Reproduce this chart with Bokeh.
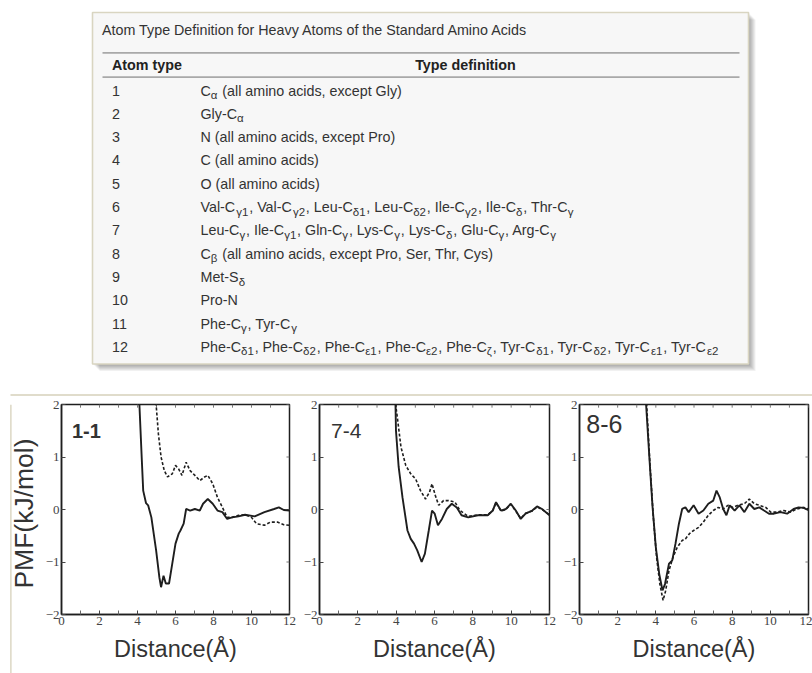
import re
import math

from bokeh.core.properties import value
from bokeh.embed import file_html
from bokeh.layouts import column, row
from bokeh.models import FixedTicker, Range1d
from bokeh.plotting import figure
from bokeh.resources import INLINE

# ---------------------------------------------------------------- table data
TABLE_TITLE = "Atom Type Definition for Heavy Atoms of the Standard Amino Acids"
HEADER_TYPE = "Atom type"
HEADER_DEF = "Type definition"
ATOM_TYPES = [str(i) for i in range(1, 14)]
# "_{...}" marks a subscript
DEFINITIONS = [
    "C_{α} (all amino acids, except Gly)",
    "Gly-C_{α}",
    "N (all amino acids, except Pro)",
    "C (all amino acids)",
    "O (all amino acids)",
    "Val-C_{γ1}, Val-C_{γ2}, Leu-C_{δ1}, Leu-C_{δ2}, Ile-C_{γ2}, Ile-C_{δ}, Thr-C_{γ}",
    "Leu-C_{γ}, Ile-C_{γ1}, Gln-C_{γ}, Lys-C_{γ}, Lys-C_{δ}, Glu-C_{γ}, Arg-C_{γ}",
    "C_{β} (all amino acids, except Pro, Ser, Thr, Cys)",
    "Met-S_{δ}",
    "Pro-N",
    "Phe-C_{γ}, Tyr-C_{γ}",
    "Phe-C_{δ1}, Phe-C_{δ2}, Phe-C_{ε1}, Phe-C_{ε2}, Phe-C_{ζ}, Tyr-C_{δ1}, Tyr-C_{δ2}, Tyr-C_{ε1}, Tyr-C_{ε2}",
    "Trp-C_{γ}",
]

# ---------------------------------------------------------------- PMF data
PANEL_LABELS = ["1-1", "7-4", "8-6"]
X_TICKS = [0, 2, 4, 6, 8, 10, 12]
X_MINOR = [1, 3, 5, 7, 9, 11]
Y_TICKS = [-2, -1, 0, 1, 2]

X11_SOLID = [4.0, 4.1, 4.22, 4.3, 4.45, 4.56, 4.73, 4.98, 5.15, 5.24, 5.37, 5.49, 5.66, 5.83, 6.0, 6.17, 6.26,
             6.43, 6.56, 6.77, 7.02, 7.28, 7.45, 7.70, 7.96, 8.21, 8.47, 8.72, 8.98, 9.32, 9.66, 10.17, 10.68,
             11.19, 11.44, 11.7, 12.0]
Y11_SOLID = [2.6, 2.0, 1.0, 0.36, 0.12, 0.08, -0.15, -0.78, -1.29, -1.48, -1.26, -1.41, -1.41, -1.03, -0.65,
             -0.46, -0.40, -0.27, 0.01, -0.02, 0.01, -0.02, 0.11, 0.20, 0.11, -0.02, -0.05, -0.18, -0.15, -0.13,
             -0.10, -0.13, -0.05, 0.01, 0.04, -0.01, -0.02]
X11_DASH = [4.9, 4.98, 5.1, 5.24, 5.41, 5.58, 5.83, 6.0, 6.17, 6.34, 6.56, 6.77, 7.02, 7.28, 7.53, 7.70, 7.96,
            8.21, 8.47, 8.72, 8.98, 9.32, 9.66, 10.0, 10.26, 10.68, 11.0, 11.36, 11.7, 12.0]
Y11_DASH = [2.8, 2.0, 1.44, 1.0, 0.74, 0.62, 0.68, 0.84, 0.77, 0.65, 0.90, 0.74, 0.65, 0.55, 0.62, 0.65, 0.49,
            0.23, 0.04, -0.15, -0.15, -0.11, -0.10, -0.15, -0.27, -0.30, -0.24, -0.24, -0.29, -0.30]

X74_SOLID = [3.95, 3.99, 4.13, 4.33, 4.59, 4.76, 4.93, 5.1, 5.33, 5.5, 5.70, 5.87, 6.01, 6.18, 6.39, 6.64, 6.90,
             7.16, 7.41, 7.76, 8.27, 8.78, 9.04, 9.21, 9.47, 9.73, 9.98, 10.24, 10.5, 10.75, 11.1, 11.35, 11.61,
             12.0]
Y74_SOLID = [2.3, 1.5, 0.81, 0.23, -0.40, -0.56, -0.65, -0.78, -1.0, -0.84, -0.40, -0.02, -0.08, -0.30, -0.18,
             0.01, 0.11, 0.04, -0.11, -0.15, -0.11, -0.11, -0.02, 0.14, -0.02, 0.01, 0.11, -0.02, -0.18, -0.08,
             -0.02, 0.06, 0.01, -0.11]
X74_DASH = [3.97, 3.99, 4.08, 4.25, 4.5, 4.76, 5.02, 5.27, 5.53, 5.74, 5.87, 6.04, 6.22, 6.47, 6.73, 7.07, 7.33,
            7.76, 8.27, 8.78, 9.04, 9.21, 9.47, 9.73, 9.98, 10.24, 10.5, 10.75, 11.1, 11.35, 11.61, 12.0]
Y74_DASH = [2.3, 1.95, 1.7, 1.19, 0.84, 0.68, 0.58, 0.36, 0.20, 0.33, 0.49, 0.27, 0.08, 0.17, 0.17, 0.14, -0.02,
            -0.13, -0.10, -0.10, -0.02, 0.13, -0.03, 0.0, 0.10, -0.03, -0.17, -0.07, -0.03, 0.05, 0.0, -0.10]

X86_SOLID = [3.45, 3.49, 3.66, 3.83, 4.0, 4.18, 4.35, 4.48, 4.69, 4.86, 5.03, 5.21, 5.38, 5.55, 5.72, 5.98, 6.24,
             6.49, 6.75, 7.01, 7.18, 7.35, 7.53, 7.70, 7.87, 8.13, 8.38, 8.64, 8.9, 9.16, 9.42, 9.67, 9.93, 10.19,
             10.53, 10.88, 11.22, 11.48, 11.74, 12.0]
Y86_SOLID = [2.5, 2.0, 1.0, 0.04, -0.72, -1.23, -1.54, -1.42, -1.03, -0.97, -0.65, -0.27, 0.01, 0.04, -0.05,
             0.08, -0.08, -0.02, 0.11, 0.17, 0.36, 0.23, 0.01, -0.11, 0.08, -0.02, 0.08, -0.05, 0.11, 0.01, 0.04,
             -0.02, -0.08, -0.08, -0.05, -0.08, 0.01, 0.04, 0.03, -0.01]
X86_DASH = [3.48, 3.52, 3.69, 3.87, 4.04, 4.21, 4.38, 4.52, 4.69, 4.9, 5.12, 5.38, 5.55, 5.76, 5.98, 6.24, 6.49,
            6.75, 7.01, 7.27, 7.53, 7.78, 8.04, 8.3, 8.64, 8.9, 9.16, 9.42, 9.76, 10.02, 10.36, 10.7, 11.05, 11.39,
            11.74, 12.0]
Y86_DASH = [2.5, 2.0, 0.87, -0.15, -0.91, -1.42, -1.73, -1.54, -1.16, -0.91, -0.72, -0.59, -0.56, -0.46, -0.40,
            -0.34, -0.24, -0.11, -0.02, 0.04, 0.01, 0.08, 0.04, 0.08, 0.11, 0.20, 0.11, 0.08, 0.04, -0.05, -0.05,
            -0.02, -0.05, 0.01, 0.04, 0.01]

# ---------------------------------------------------------------- text metrics
# advance widths (1/1000 em) of Liberation Sans, used to place subscripts
ADV = {' ': 278, '(': 333, ')': 333, ',': 278, '-': 333, '.': 278,
       'α': 578, 'β': 575, 'γ': 500, 'δ': 557, 'ε': 446, 'ζ': 441}
ADV.update({d: 556 for d in "0123456789"})
ADV.update(dict(zip("ABCDEFGHIJKLMNOPQRSTUVWXYZ",
                    [667, 667, 722, 722, 667, 611, 778, 722, 278, 500, 667, 556, 833, 722, 778, 667, 778, 722,
                     667, 611, 722, 667, 944, 667, 667, 611])))
ADV.update(dict(zip("abcdefghijklmnopqrstuvwxyz",
                    [556, 556, 500, 556, 556, 278, 556, 556, 222, 222, 500, 222, 833, 556, 556, 556, 556, 333,
                     500, 278, 556, 500, 722, 500, 500, 500])))


def text_width(s, size):
    return sum(ADV.get(ch, 556) for ch in s) * size / 1000.0


FONT = "Liberation Sans"
MAIN_SIZE = 14.3
SUB_SIZE = 11.5
SUB_GAP = 0.8
TEXT_COLOR = "#333333"

# ---------------------------------------------------------------- table canvas
TOP_H = 396
tbl = figure(width=812, height=TOP_H, x_range=Range1d(0, 812), y_range=Range1d(TOP_H, 0),
             output_backend="svg", toolbar_location=None, min_border=0, title=None,
             x_axis_location=None, y_axis_location=None)
tbl.grid.visible = False
tbl.outline_line_color = None
tbl.background_fill_color = "white"
tbl.border_fill_color = "white"

BOX_L, BOX_R, BOX_T, BOX_B = 92, 748, 12, 363.5
SHADOW = 7

# soft drop shadow
for k in range(1, SHADOW + 1):
    tbl.quad(left=[BOX_L + k], right=[BOX_R + k], top=[BOX_T + k], bottom=[BOX_B + k],
             fill_color="black", fill_alpha=0.055, line_color=None)
tbl.quad(left=[BOX_L], right=[BOX_R], top=[BOX_T], bottom=[BOX_B], fill_color="#f7f7f7", line_color=None)

tbl.text(x=[101.5], y=[29.5], text=[TABLE_TITLE], text_font=value(FONT), text_font_size=f"{MAIN_SIZE}px",
         text_baseline="middle", text_align="left", text_color=TEXT_COLOR)
tbl.segment(x0=[102, 102], x1=[739, 739], y0=[52.3, 76.7], y1=[52.3, 76.7], line_color="#a9a9a9", line_width=1.8)
tbl.text(x=[111.5], y=[64.5], text=[HEADER_TYPE], text_font=value(FONT), text_font_size=f"{MAIN_SIZE}px",
         text_font_style="bold", text_baseline="middle", text_align="left", text_color="#222222")
tbl.text(x=[465], y=[64.5], text=[HEADER_DEF], text_font=value(FONT), text_font_size=f"{MAIN_SIZE}px",
         text_font_style="bold", text_baseline="middle", text_align="center", text_color="#222222")

ROW0, ROW_STEP = 90.0, 23.3
num_y = [ROW0 + i * ROW_STEP for i in range(len(ATOM_TYPES))]
tbl.text(x=[111.5] * len(ATOM_TYPES), y=num_y, text=ATOM_TYPES, text_font=value(FONT),
         text_font_size=f"{MAIN_SIZE}px", text_baseline="middle", text_align="left", text_color=TEXT_COLOR)

main_x, main_y, main_t = [], [], []
sub_x, sub_y, sub_t = [], [], []
for i, d in enumerate(DEFINITIONS):
    x = 200.0
    y = ROW0 + i * ROW_STEP
    parts = re.split(r"_\{([^}]*)\}", d)
    for j, part in enumerate(parts):
        if not part:
            continue
        if j % 2 == 0:
            # SVG drops leading blanks, so step over them before placing the run
            stripped = part.lstrip(" ")
            x += text_width(part[:len(part) - len(stripped)], MAIN_SIZE)
            main_x.append(x); main_y.append(y); main_t.append(stripped)
            x += text_width(stripped, MAIN_SIZE)
        else:
            sub_x.append(x); sub_y.append(y + 4.6); sub_t.append(part)
            x += text_width(part, SUB_SIZE) + SUB_GAP

tbl.text(x=main_x, y=main_y, text=main_t, text_font=value(FONT), text_font_size=f"{MAIN_SIZE}px",
         text_baseline="middle", text_align="left", text_color=TEXT_COLOR)
tbl.text(x=sub_x, y=sub_y, text=sub_t, text_font=value(FONT), text_font_size=f"{SUB_SIZE}px",
         text_baseline="middle", text_align="left", text_color=TEXT_COLOR)

# cut the last row off at the bottom edge of the box, then restore the shadow there
tbl.quad(left=[0], right=[812], top=[BOX_B], bottom=[TOP_H], fill_color="white", line_color=None)
for k in range(1, SHADOW + 1):
    tbl.quad(left=[BOX_L + k], right=[BOX_R + k], top=[BOX_B], bottom=[BOX_B + k],
             fill_color="black", fill_alpha=0.055, line_color=None)
tbl.quad(left=[BOX_L], right=[BOX_R], top=[BOX_T], bottom=[BOX_B], fill_color=None,
         line_color="#d9d5c1", line_width=1.6)

# top edge of the lower panel
tbl.segment(x0=[10], x1=[812], y0=[394.5], y1=[394.5], line_color="#e0dccb", line_width=2)

# ---------------------------------------------------------------- lower panel
BOT_H = 673 - TOP_H

# narrow left strip: panel edge and the shared y-axis title
strip = figure(frame_width=42, frame_height=BOT_H, x_range=Range1d(0, 42), y_range=Range1d(BOT_H, 0),
               output_backend="svg", toolbar_location=None, min_border=0, title=None,
               x_axis_location=None, y_axis_location=None)
strip.grid.visible = False
strip.outline_line_color = None
strip.background_fill_color = "white"
strip.border_fill_color = "white"
strip.quad(left=[9.5], right=[11.2], top=[0], bottom=[BOT_H], fill_color="#e0dccb", line_color=None)
strip.text(x=[23], y=[109], text=["PMF(kJ/mol)"], angle=math.pi / 2, text_font=value(FONT),
           text_font_size="26.5px", text_baseline="middle", text_align="center", text_color="#333333")

LINE_C = "#1e1e1e"
TICK_FONT = "Liberation Serif"


def pmf_panel(width, left, right, label, label_pos, label_size, label_style, xs, ys, xd, yd):
    p = figure(width=width, height=BOT_H, x_range=Range1d(0, 12), y_range=Range1d(-2, 2),
               output_backend="svg", toolbar_location=None, title=None,
               min_border_left=left, min_border_right=right, min_border_top=8, min_border_bottom=59)
    p.grid.visible = False
    p.background_fill_color = "white"
    p.border_fill_color = "white"
    p.outline_line_color = LINE_C
    p.outline_line_width = 1.5

    p.xaxis.ticker = FixedTicker(ticks=X_TICKS, minor_ticks=X_MINOR)
    p.yaxis.ticker = FixedTicker(ticks=Y_TICKS)
    p.xaxis.axis_label = "Distance(Å)"
    p.xaxis.axis_label_text_font = FONT
    p.xaxis.axis_label_text_font_style = "normal"
    p.xaxis.axis_label_text_font_size = "23.5px"
    p.xaxis.axis_label_text_color = "#333333"
    p.xaxis.axis_label_standoff = 8
    p.xaxis.minor_tick_in = 4
    p.xaxis.minor_tick_out = 0
    p.yaxis.minor_tick_in = 0
    p.yaxis.minor_tick_out = 0
    for ax in (p.xaxis, p.yaxis):
        ax.major_label_text_font = TICK_FONT
        ax.major_label_text_font_size = "13px"
        ax.major_label_text_color = "#444444"
        ax.major_tick_in = 4
        ax.major_tick_out = 0
        ax.axis_line_color = LINE_C
        ax.axis_line_width = 1.5
        ax.major_tick_line_color = "#444444"
        ax.minor_tick_line_color = "#666666"
        ax.major_label_standoff = 2

    # short inward ticks along the top and right edges of the frame
    top_x = X_TICKS + X_MINOR
    p.segment(x0=top_x, x1=top_x, y0=[2.0] * len(top_x), y1=[1.94] * len(top_x),
              line_color="#777777", line_width=1)
    p.segment(x0=[12.0] * len(Y_TICKS), x1=[11.84] * len(Y_TICKS), y0=Y_TICKS, y1=Y_TICKS,
              line_color="#777777", line_width=1)

    p.line(xd, yd, line_color=LINE_C, line_width=1.6, line_dash="3 2")
    p.line(xs, ys, line_color=LINE_C, line_width=1.9)
    p.text(x=[label_pos[0]], y=[label_pos[1]], text=[label], text_font=value(FONT),
           text_font_size=label_size, text_font_style=label_style, text_baseline="middle",
           text_align="left", text_color="#333333")
    return p


p1 = pmf_panel(258, 13, 11, PANEL_LABELS[0], (0.55, 1.5), "20px", "bold",
               X11_SOLID, Y11_SOLID, X11_DASH, Y11_DASH)
p2 = pmf_panel(260, 16, 11, PANEL_LABELS[1], (0.6, 1.5), "21px", "normal",
               X74_SOLID, Y74_SOLID, X74_DASH, Y74_DASH)
p3 = pmf_panel(252, 16, 4, PANEL_LABELS[2], (0.36, 1.62), "25px", "normal",
               X86_SOLID, Y86_SOLID, X86_DASH, Y86_DASH)

layout = column(tbl, row(strip, p1, p2, p3, spacing=0), spacing=0)

with open("out.html", "w") as f:
    f.write(file_html(layout, INLINE))
